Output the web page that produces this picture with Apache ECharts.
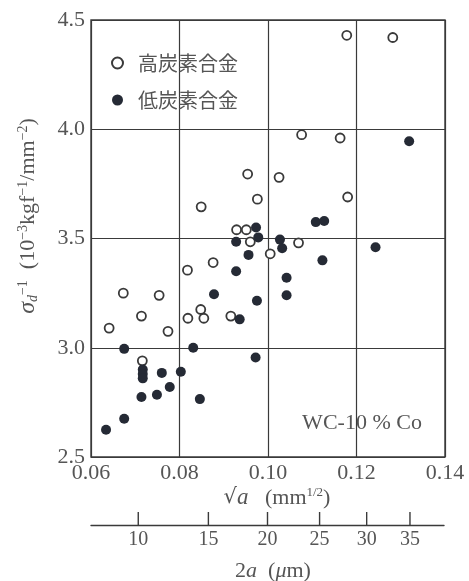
<!DOCTYPE html>
<html>
<head>
<meta charset="utf-8">
<script src="https://cdn.jsdelivr.net/npm/echarts@6/dist/echarts.min.js"></script>
<style>
  html, body { margin: 0; padding: 0; background: #fff; }
  #chart { width: 469px; height: 581px; }
</style>
</head>
<body>
<div id="chart"></div>
<script>
// sqrt(a) in mm^(1/2) versus inverse strength, WC-10% Co
const seriesNames = ['高炭素合金', '低炭素合金'];

const highCarbonX = [0.0641, 0.0673, 0.0714, 0.0754, 0.0774, 0.0716, 0.0818, 0.0876, 0.0819, 0.0848,
                     0.0855, 0.0916, 0.0849, 0.0976, 0.0929, 0.0951, 0.0960, 0.1005, 0.1069, 0.1076,
                     0.1163, 0.0954, 0.1025, 0.1180, 0.1178, 0.1282];
const highCarbonY = [3.09, 3.25, 3.145, 3.24, 3.075, 2.94, 3.355, 3.39, 3.135, 3.175,
                     3.135, 3.145, 3.645, 3.68, 3.54, 3.54, 3.485, 3.43, 3.48, 3.975,
                     3.96, 3.795, 3.78, 3.69, 4.43, 4.42];

const lowCarbonX = [0.0634, 0.0675, 0.0675, 0.0717, 0.0717, 0.0717, 0.0714, 0.0749, 0.0760, 0.0778,
                    0.0803, 0.0831, 0.0846, 0.0878, 0.0928, 0.0928, 0.0936, 0.0956, 0.0973, 0.0978,
                    0.0975, 0.0972, 0.1027, 0.1032, 0.1042, 0.1042, 0.1108, 0.1127, 0.1123, 0.1243,
                    0.1319];
const lowCarbonY = [2.625, 2.675, 2.995, 2.90, 2.88, 2.86, 2.775, 2.785, 2.885, 2.82,
                    2.89, 3.00, 2.765, 3.245, 3.35, 3.485, 3.13, 3.425, 3.55, 3.505,
                    3.215, 2.955, 3.495, 3.455, 3.32, 3.24, 3.575, 3.58, 3.40, 3.46,
                    3.945];

// secondary scale: crack length 2a in micrometres (sqrt(a) = sqrt(2a / 2000) mm^(1/2))
const secondaryTicks = [10, 15, 20, 25, 30, 35];

const serif = '"Liberation Serif", "DejaVu Serif", serif';
const cjk = '"Noto Sans CJK JP", "Noto Sans CJK SC", sans-serif';
const ink = '#3a3a3a';
const textInk = '#555';

const zip = (xs, ys) => xs.map((x, i) => [x, ys[i]]);

const chart = echarts.init(document.getElementById('chart'), null, { renderer: 'canvas' });

chart.setOption({
  backgroundColor: '#fff',
  animation: false,
  grid: [
    { left: 91, top: 20, width: 354, height: 437, show: true, borderColor: ink, borderWidth: 1.4, backgroundColor: 'transparent' },
    { left: 91, top: 500, width: 353, height: 25 }
  ],
  legend: {
    orient: 'vertical',
    left: 106,
    top: 48,
    itemWidth: 11,
    itemHeight: 11,
    itemGap: 17,
    data: seriesNames,
    textStyle: { fontFamily: cjk, fontSize: 20, color: textInk, padding: [0, 0, 0, 10] }
  },
  xAxis: [
    {
      type: 'value', gridIndex: 0, min: 0.06, max: 0.14, interval: 0.02,
      axisLine: { show: false },
      axisTick: { show: false },
      splitLine: { show: true, lineStyle: { color: ink, width: 1.2 } },
      axisLabel: { margin: 5, fontFamily: serif, fontSize: 22, color: textInk, formatter: v => v.toFixed(2) }
    },
    {
      type: 'value', gridIndex: 1, min: 0.06, max: 0.14,
      axisLine: { show: true, onZero: false, lineStyle: { color: ink, width: 1.4 } },
      axisTick: { show: false },
      axisLabel: { show: false },
      splitLine: { show: false }
    }
  ],
  yAxis: [
    {
      type: 'value', gridIndex: 0, min: 2.5, max: 4.5, interval: 0.5,
      axisLine: { show: false },
      axisTick: { show: false },
      splitLine: { show: true, lineStyle: { color: ink, width: 1.2 } },
      axisLabel: { margin: 6, fontFamily: serif, fontSize: 22, color: textInk, formatter: v => v.toFixed(1) }
    },
    { type: 'value', gridIndex: 1, min: 0, max: 1, show: false }
  ],
  graphic: [
    {
      type: 'text', x: 28, y: 216, rotation: Math.PI / 2,
      style: {
        text: '{s|σ}{sub|d}{sup|−1}{t|  (10}{sup|−3}{t|kgf}{sup|−1}{t|/mm}{sup|−2}{t|)}',
        align: 'center', verticalAlign: 'middle', fill: textInk,
        rich: {
          s: { fontFamily: serif, fontSize: 24, fontStyle: 'italic', fill: textInk },
          t: { fontFamily: serif, fontSize: 22, fill: textInk },
          sub: { fontFamily: serif, fontSize: 14, fontStyle: 'italic', fill: textInk, verticalAlign: 'bottom', padding: [8, 0, 0, 0] },
          sup: { fontFamily: serif, fontSize: 14, fill: textInk, verticalAlign: 'top', padding: [0, 0, 8, 0] }
        }
      }
    },
    {
      type: 'text', x: 277, y: 498,
      style: {
        text: '{r|√}{a|a}{t|   (mm}{sup|1/2}{t|)}',
        align: 'center', verticalAlign: 'middle', fill: textInk,
        rich: {
          r: { fontFamily: '"DejaVu Serif", serif', fontSize: 21, fill: textInk },
          a: { fontFamily: serif, fontSize: 23, fontStyle: 'italic', fill: textInk },
          t: { fontFamily: serif, fontSize: 22, fill: textInk },
          sup: { fontFamily: serif, fontSize: 13, fill: textInk, verticalAlign: 'top', padding: [0, 0, 7, 0] }
        }
      }
    },
    {
      type: 'text', x: 273, y: 571,
      style: {
        text: '{t|2}{a|a}{t|  (}{a|μ}{t|m)}',
        align: 'center', verticalAlign: 'middle', fill: textInk,
        rich: {
          t: { fontFamily: serif, fontSize: 22, fill: textInk },
          a: { fontFamily: serif, fontSize: 22, fontStyle: 'italic', fill: textInk }
        }
      }
    },
    {
      type: 'text', x: 362, y: 423,
      style: { text: 'WC-10 % Co', fontFamily: serif, fontSize: 22, fill: textInk, align: 'center', verticalAlign: 'middle' }
    }
  ],
  series: [
    {
      name: seriesNames[0], type: 'scatter', xAxisIndex: 0, yAxisIndex: 0,
      symbol: 'circle', symbolSize: 9,
      itemStyle: { color: '#fff', borderColor: ink, borderWidth: 1.8, opacity: 1 },
      data: zip(highCarbonX, highCarbonY), z: 3
    },
    {
      name: seriesNames[1], type: 'scatter', xAxisIndex: 0, yAxisIndex: 0,
      symbol: 'circle', symbolSize: 10,
      itemStyle: { color: '#252a35', opacity: 1 },
      data: zip(lowCarbonX, lowCarbonY), z: 4
    },
    {
      type: 'custom', xAxisIndex: 1, yAxisIndex: 1, silent: true,
      data: secondaryTicks.map(v => [Math.sqrt(v / 2000), 0, v]),
      renderItem: function (params, api) {
        const p = api.coord([api.value(0), 0]);
        return {
          type: 'group',
          children: [
            { type: 'line', shape: { x1: p[0], y1: p[1], x2: p[0], y2: p[1] - 13 }, style: { stroke: ink, lineWidth: 1.4 } },
            { type: 'text', x: p[0], y: p[1] + 15, style: { text: String(api.value(2)), fontFamily: serif, fontSize: 20, fill: textInk, align: 'center', verticalAlign: 'middle' } }
          ]
        };
      }
    }
  ]
});
</script>
</body>
</html>
